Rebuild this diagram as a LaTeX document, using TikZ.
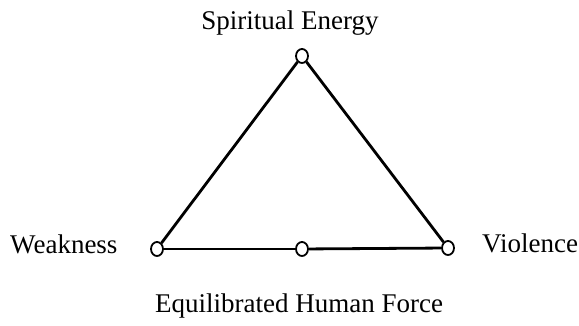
\documentclass[tikz,border=0pt]{standalone}
\usepackage{fontspec}
\setmainfont{Liberation Serif}
\usetikzlibrary{shapes.geometric}
\begin{document}
\begin{tikzpicture}[x=1pt,y=1pt,
  vert/.style={ellipse,draw,line width=1.8pt,minimum width=12pt,minimum height=14pt,inner sep=0pt,fill=white},
  edge/.style={line width=2.8pt},
  lab/.style={font=\fontsize{27}{30}\selectfont,inner sep=0pt}]
\useasboundingbox (0,0) rectangle (579,326);
\node[vert] (top) at (302,270) {};
\node[vert] (bl) at (157,77) {};
\node[vert] (br) at (448,78) {};
\node[vert] (mid) at (302,77) {};
\draw[edge] (top) -- (bl);
\draw[edge] (top) -- (br);
\draw[edge] (bl) -- (mid);
\draw[edge] (mid) -- (br);
\node[lab,anchor=base] (tl) at (290,296) {Spiritual Energy};
\node[lab,anchor=base west] (wl) at (10,72) {Weakness};
\node[lab,anchor=base west] (vl) at (482,73) {Violence};
\node[lab,anchor=base] (el) at (299,13) {Equilibrated Human Force};
\end{tikzpicture}
\end{document}
